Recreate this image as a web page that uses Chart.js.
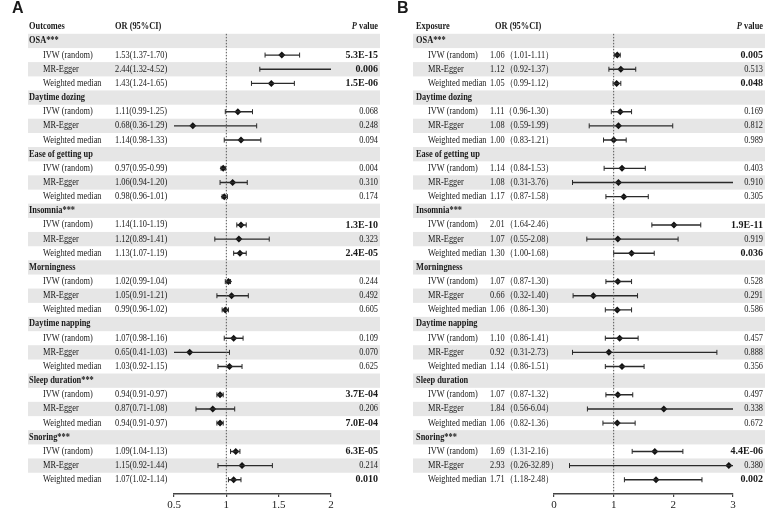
<!DOCTYPE html>
<html>
<head>
<meta charset="utf-8">
<script src="https://cdn.jsdelivr.net/npm/chart.js@4.4.0/dist/chart.umd.min.js"></script>
<style>
  body { margin: 0; background: #fff; }
  #wrap { position: relative; width: 767px; height: 515px; }
  canvas { position: absolute; top: 0; }
</style>
</head>
<body>
<div id="wrap">
  <canvas id="chartA" width="383" height="515" style="left:0"></canvas>
  <canvas id="chartB" width="384" height="515" style="left:383px"></canvas>
</div>
<script>
// ---- data ----
const methods = ['IVW (random)', 'MR-Egger', 'Weighted median'];

const groupsA = ['OSA***', 'Daytime dozing', 'Ease of getting up', 'Insomnia***',
  'Morningness', 'Daytime napping', 'Sleep duration***', 'Snoring***'];
const orA = [1.53, 2.44, 1.43, 1.11, 0.68, 1.14, 0.97, 1.06, 0.98, 1.14, 1.12, 1.13,
  1.02, 1.05, 0.99, 1.07, 0.65, 1.03, 0.94, 0.87, 0.94, 1.09, 1.15, 1.07];
const loA = [1.37, 1.32, 1.24, 0.99, 0.36, 0.98, 0.95, 0.94, 0.96, 1.10, 0.89, 1.07,
  0.99, 0.91, 0.96, 0.98, 0.41, 0.92, 0.91, 0.71, 0.91, 1.04, 0.92, 1.02];
const hiA = [1.70, 4.52, 1.65, 1.25, 1.29, 1.33, 0.99, 1.20, 1.01, 1.19, 1.41, 1.19,
  1.04, 1.21, 1.02, 1.16, 1.03, 1.15, 0.97, 1.08, 0.97, 1.13, 1.44, 1.14];
const pA = ['5.3E-15', '0.006', '1.5E-06', '0.068', '0.248', '0.094', '0.004', '0.310', '0.174',
  '1.3E-10', '0.323', '2.4E-05', '0.244', '0.492', '0.605', '0.109', '0.070', '0.625',
  '3.7E-04', '0.206', '7.0E-04', '6.3E-05', '0.214', '0.010'];
const boldA = [1, 1, 1, 0, 0, 0, 0, 0, 0, 1, 0, 1, 0, 0, 0, 0, 0, 0, 1, 0, 1, 1, 0, 1];
const ticksA = [0.5, 2];

const groupsB = ['OSA***', 'Daytime dozing', 'Ease of getting up', 'Insomnia***',
  'Morningness', 'Daytime napping', 'Sleep duration', 'Snoring***'];
const orB = [1.06, 1.12, 1.05, 1.11, 1.08, 1.00, 1.14, 1.08, 1.17, 2.01, 1.07, 1.30,
  1.07, 0.66, 1.06, 1.10, 0.92, 1.14, 1.07, 1.84, 1.06, 1.69, 2.93, 1.71];
const loB = [1.01, 0.92, 0.99, 0.96, 0.59, 0.83, 0.84, 0.31, 0.87, 1.64, 0.55, 1.00,
  0.87, 0.32, 0.86, 0.86, 0.31, 0.86, 0.87, 0.56, 0.82, 1.31, 0.26, 1.18];
const hiB = [1.11, 1.37, 1.12, 1.30, 1.99, 1.21, 1.53, 3.76, 1.58, 2.46, 2.08, 1.68,
  1.30, 1.40, 1.30, 1.41, 2.73, 1.51, 1.32, 6.04, 1.36, 2.16, 32.89, 2.48];
const pB = ['0.005', '0.513', '0.048', '0.169', '0.812', '0.989', '0.403', '0.910', '0.305',
  '1.9E-11', '0.919', '0.036', '0.528', '0.291', '0.586', '0.457', '0.888', '0.356',
  '0.497', '0.338', '0.672', '4.4E-06', '0.380', '0.002'];
const boldB = [1, 0, 1, 0, 0, 0, 0, 0, 0, 1, 0, 1, 0, 0, 0, 0, 0, 0, 0, 0, 0, 1, 0, 1];
const ticksB = [0, 3];

// ---- layout ----
const rowH = 14.3;
const headerY = 22;
const axisY = 494;
const nRows = groupsA.length * 4;
const serif = "'Liberation Serif', 'Times New Roman', serif";
const textFont = '9.5px ' + serif;
const labelFont = 'bold 9.5px ' + serif;
const squeeze = 0.88;

function rowOf(i) {
  // i = index into value arrays; group row sits above its three methods
  const g = Math.floor(i / 3);
  return 1 + g * 4 + 1 + (i % 3);
}

// the source figure uses a narrow serif, so squeeze text horizontally
function put(ctx, txt, x, y, font, align, sx) {
  ctx.save();
  ctx.font = font;
  ctx.textAlign = align;
  ctx.translate(x, y);
  ctx.scale(sx, 1);
  ctx.fillText(txt, 0, 0);
  ctx.restore();
}

const tablePlugin = {
  id: 'forestTable',
  beforeDraw(chart, args, o) {
    const ctx = chart.ctx;
    const y = chart.scales.y;
    ctx.save();
    ctx.fillStyle = '#e6e6e6';
    for (let k = 1; k <= nRows; k++) {
      if (k % 4 === 1 || k % 4 === 3) {
        const cy = y.getPixelForValue(k);
        ctx.fillRect(o.shadeLeft, cy - rowH / 2, o.shadeRight - o.shadeLeft, rowH);
      }
    }
    ctx.restore();
  },
  afterDraw(chart, args, o) {
    const ctx = chart.ctx;
    const y = chart.scales.y;
    ctx.save();
    ctx.fillStyle = '#1a1a1a';
    ctx.textBaseline = 'middle';

    put(ctx, o.letter, o.letterX, 9, "bold 16px 'Liberation Sans', Arial, sans-serif", 'left', 1);

    const hy = y.getPixelForValue(0);
    put(ctx, o.header, o.labelX, hy, labelFont, 'left', squeeze);
    put(ctx, 'OR (95%CI)', o.orHeadX, hy, labelFont, 'left', squeeze);
    put(ctx, ' value', o.pRight, hy, labelFont, 'right', squeeze);
    ctx.font = labelFont;
    const w = ctx.measureText(' value').width * squeeze;
    put(ctx, 'P', o.pRight - w, hy, 'italic ' + labelFont, 'right', squeeze);

    o.groups.forEach((g, gi) => {
      put(ctx, g, o.labelX, y.getPixelForValue(1 + gi * 4), labelFont, 'left', squeeze);
    });

    o.or.forEach((v, i) => {
      const cy = y.getPixelForValue(rowOf(i));
      put(ctx, methods[i % 3], o.methodX, cy, textFont, 'left', squeeze);
      const txt = o.wide
        ? v.toFixed(2) + '（' + o.lo[i].toFixed(2) + '-' + o.hi[i].toFixed(2) + '）'
        : v.toFixed(2) + '(' + o.lo[i].toFixed(2) + '-' + o.hi[i].toFixed(2) + ')';
      put(ctx, txt, o.orX, cy, textFont, 'left', squeeze);
      if (o.bold[i]) put(ctx, o.p[i], o.pRight, cy, 'bold 10px ' + serif, 'right', 1);
      else put(ctx, o.p[i], o.pRight, cy, textFont, 'right', squeeze);
    });
    ctx.restore();
  }
};

function buildPanel(canvasId, panel) {
  const [xmin, xmax] = panel.range;
  const whiskers = [];
  const caps = [];
  const points = [];
  panel.or.forEach((v, i) => {
    const r = rowOf(i);
    const lo = Math.max(panel.lo[i], xmin);
    const hi = Math.min(panel.hi[i], xmax);
    whiskers.push({ x: lo, y: r }, { x: hi, y: r }, { x: null, y: r });
    if (panel.lo[i] >= xmin) caps.push({ x: lo, y: r });
    if (panel.hi[i] <= xmax) caps.push({ x: hi, y: r });
    if (v >= xmin && v <= xmax) points.push({ x: v, y: r });
  });
  const yMin = -headerY / rowH;
  const yMax = (axisY - headerY) / rowH;
  const canvas = document.getElementById(canvasId);

  return new Chart(canvas, {
    type: 'scatter',
    data: {
      datasets: [
        {
          type: 'line',
          data: [{ x: 1, y: 0.5 }, { x: 1, y: yMax }],
          borderColor: '#555',
          borderWidth: 1,
          borderDash: [1.5, 1.5],
          pointRadius: 0
        },
        {
          type: 'line',
          data: whiskers,
          borderColor: '#2a2a2a',
          borderWidth: 1.4,
          pointRadius: 0,
          spanGaps: false
        },
        {
          data: caps,
          pointStyle: 'line',
          rotation: 90,
          pointRadius: 2.5,
          borderColor: '#2a2a2a',
          borderWidth: 1
        },
        {
          data: points,
          pointStyle: 'rectRot',
          pointRadius: 3.5,
          backgroundColor: '#111',
          borderColor: '#111',
          borderWidth: 0
        }
      ]
    },
    options: {
      responsive: false,
      animation: false,
      events: [],
      layout: {
        padding: { left: panel.plotLeft, right: canvas.width - panel.plotRight, top: 0, bottom: 0 }
      },
      scales: {
        x: {
          type: 'linear',
          min: xmin,
          max: xmax,
          afterFit(scale) { scale.height = 515 - axisY; },
          ticks: {
            stepSize: panel.step,
            color: '#222',
            padding: 2,
            font: { family: serif, size: 11 },
            callback: (v) => String(Math.round(v * 10) / 10)
          },
          grid: { drawOnChartArea: false, drawTicks: true, tickLength: 3, color: '#444', lineWidth: 1.2 },
          border: { display: true, color: '#444', width: 1.5 }
        },
        y: {
          type: 'linear',
          reverse: true,
          min: yMin,
          max: yMax,
          display: false
        }
      },
      plugins: {
        legend: { display: false },
        tooltip: { enabled: false },
        forestTable: panel
      }
    },
    plugins: [tablePlugin]
  });
}

buildPanel('chartA', {
  letter: 'A', header: 'Outcomes', groups: groupsA, wide: false,
  or: orA, lo: loA, hi: hiA, p: pA, bold: boldA,
  range: ticksA, step: 0.5,
  plotLeft: 174, plotRight: 331,
  shadeLeft: 28, shadeRight: 380,
  letterX: 12, labelX: 29, methodX: 43, orX: 115, orHeadX: 115, pRight: 378
});

buildPanel('chartB', {
  letter: 'B', header: 'Exposure', groups: groupsB, wide: true,
  or: orB, lo: loB, hi: hiB, p: pB, bold: boldB,
  range: ticksB, step: 1,
  plotLeft: 171, plotRight: 350,
  shadeLeft: 30, shadeRight: 382,
  letterX: 14, labelX: 33, methodX: 45, orX: 107, orHeadX: 112, pRight: 380
});
</script>
</body>
</html>
